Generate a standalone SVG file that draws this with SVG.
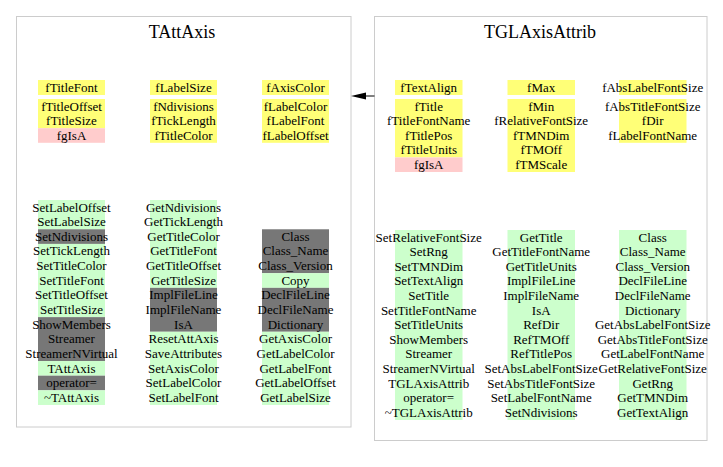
<svg xmlns="http://www.w3.org/2000/svg" width="723" height="467" viewBox="0 0 723 467">
<style>
.box{fill:#ffffff;stroke:#cccccc;stroke-width:1}
.ttl{font-family:"Liberation Serif",serif;font-size:18px;text-anchor:middle;fill:#000}
.t{font-family:"Liberation Serif",serif;font-size:13px;text-anchor:middle;fill:#000}
.y{fill:#ffff77}
.p{fill:#ffcccc}
.g{fill:#ccffcc}
.d{fill:#777777}
.edge{stroke:#000;stroke-width:1;fill:none}
</style>
<rect width="723" height="467" fill="#ffffff"/>

<g id="TAttAxis">
<rect class="box" x="16.5" y="16.5" width="334.5" height="410.5"/>
<text class="ttl" x="182" y="38">TAttAxis</text>
<!-- attribute backgrounds -->
<rect class="y" x="38" y="80" width="67" height="15"/>
<rect class="y" x="150" y="80" width="67" height="15"/>
<rect class="y" x="262" y="80" width="67" height="15"/>
<rect class="y" x="38" y="99" width="67" height="29.2"/>
<rect class="p" x="38" y="128.2" width="67" height="14.6"/>
<rect class="y" x="150" y="99" width="67" height="43.8"/>
<rect class="y" x="262" y="99" width="67" height="43.8"/>
<!-- method backgrounds -->
<rect class="g" x="38" y="200" width="67" height="29.28"/>
<rect class="d" x="38" y="229.28" width="67" height="14.64"/>
<rect class="g" x="38" y="243.92" width="67" height="73.2"/>
<rect class="d" x="38" y="317.12" width="67" height="43.92"/>
<rect class="g" x="38" y="361.04" width="67" height="14.64"/>
<rect class="d" x="38" y="375.68" width="67" height="14.64"/>
<rect class="g" x="38" y="390.32" width="67" height="14.64"/>
<rect class="g" x="150" y="200" width="67" height="87.84"/>
<rect class="d" x="150" y="287.84" width="67" height="43.92"/>
<rect class="g" x="150" y="331.76" width="67" height="73.2"/>
<rect class="d" x="262" y="229.28" width="67" height="43.92"/>
<rect class="g" x="262" y="273.2" width="67" height="14.64"/>
<rect class="d" x="262" y="287.84" width="67" height="43.92"/>
<rect class="g" x="262" y="331.76" width="67" height="73.2"/>
<!-- attributes -->
<text class="t" x="71.5" y="91.5">fTitleFont</text>
<text class="t" x="71.5" y="110.5">fTitleOffset</text>
<text class="t" x="71.5" y="125.1">fTitleSize</text>
<text class="t" x="71.5" y="139.7">fgIsA</text>
<text class="t" x="183.5" y="91.5">fLabelSize</text>
<text class="t" x="183.5" y="110.5">fNdivisions</text>
<text class="t" x="183.5" y="125.1">fTickLength</text>
<text class="t" x="183.5" y="139.7">fTitleColor</text>
<text class="t" x="295.5" y="91.5">fAxisColor</text>
<text class="t" x="295.5" y="110.5">fLabelColor</text>
<text class="t" x="295.5" y="125.1">fLabelFont</text>
<text class="t" x="295.5" y="139.7">fLabelOffset</text>
<!-- methods col 1 -->
<text class="t" x="71.5" y="211.5">SetLabelOffset</text>
<text class="t" x="71.5" y="226.14">SetLabelSize</text>
<text class="t" x="71.5" y="240.78">SetNdivisions</text>
<text class="t" x="71.5" y="255.42">SetTickLength</text>
<text class="t" x="71.5" y="270.06">SetTitleColor</text>
<text class="t" x="71.5" y="284.7">SetTitleFont</text>
<text class="t" x="71.5" y="299.34">SetTitleOffset</text>
<text class="t" x="71.5" y="313.98">SetTitleSize</text>
<text class="t" x="71.5" y="328.62">ShowMembers</text>
<text class="t" x="71.5" y="343.26">Streamer</text>
<text class="t" x="71.5" y="357.9">StreamerNVirtual</text>
<text class="t" x="71.5" y="372.54">TAttAxis</text>
<text class="t" x="71.5" y="387.18">operator=</text>
<text class="t" x="71.5" y="401.82">~TAttAxis</text>
<!-- methods col 2 -->
<text class="t" x="183.5" y="211.5">GetNdivisions</text>
<text class="t" x="183.5" y="226.14">GetTickLength</text>
<text class="t" x="183.5" y="240.78">GetTitleColor</text>
<text class="t" x="183.5" y="255.42">GetTitleFont</text>
<text class="t" x="183.5" y="270.06">GetTitleOffset</text>
<text class="t" x="183.5" y="284.7">GetTitleSize</text>
<text class="t" x="183.5" y="299.34">ImplFileLine</text>
<text class="t" x="183.5" y="313.98">ImplFileName</text>
<text class="t" x="183.5" y="328.62">IsA</text>
<text class="t" x="183.5" y="343.26">ResetAttAxis</text>
<text class="t" x="183.5" y="357.9">SaveAttributes</text>
<text class="t" x="183.5" y="372.54">SetAxisColor</text>
<text class="t" x="183.5" y="387.18">SetLabelColor</text>
<text class="t" x="183.5" y="401.82">SetLabelFont</text>
<!-- methods col 3 -->
<text class="t" x="295.5" y="240.78">Class</text>
<text class="t" x="295.5" y="255.42">Class_Name</text>
<text class="t" x="295.5" y="270.06">Class_Version</text>
<text class="t" x="295.5" y="284.7">Copy</text>
<text class="t" x="295.5" y="299.34">DeclFileLine</text>
<text class="t" x="295.5" y="313.98">DeclFileName</text>
<text class="t" x="295.5" y="328.62">Dictionary</text>
<text class="t" x="295.5" y="343.26">GetAxisColor</text>
<text class="t" x="295.5" y="357.9">GetLabelColor</text>
<text class="t" x="295.5" y="372.54">GetLabelFont</text>
<text class="t" x="295.5" y="387.18">GetLabelOffset</text>
<text class="t" x="295.5" y="401.82">GetLabelSize</text>
</g>

<g id="TGLAxisAttrib">
<rect class="box" x="374.5" y="16.5" width="332.5" height="424"/>
<text class="ttl" x="540" y="38">TGLAxisAttrib</text>
<!-- attribute backgrounds -->
<rect class="y" x="395" y="80" width="67.5" height="15"/>
<rect class="y" x="507.5" y="80" width="67.5" height="15"/>
<rect class="y" x="619" y="80" width="67.5" height="15"/>
<rect class="y" x="395" y="99" width="67.5" height="58.4"/>
<rect class="p" x="395" y="157.4" width="67.5" height="14.6"/>
<rect class="y" x="507.5" y="99" width="67.5" height="73"/>
<rect class="y" x="619" y="99" width="67.5" height="43.8"/>
<!-- method backgrounds -->
<rect class="g" x="395" y="230" width="67.5" height="190"/>
<rect class="g" x="507.5" y="230" width="67.5" height="190"/>
<rect class="g" x="619" y="230" width="67.5" height="190"/>
<!-- attributes -->
<text class="t" x="428.7" y="91.5">fTextAlign</text>
<text class="t" x="428.7" y="110.5">fTitle</text>
<text class="t" x="428.7" y="125.1">fTitleFontName</text>
<text class="t" x="428.7" y="139.7">fTitlePos</text>
<text class="t" x="428.7" y="154.3">fTitleUnits</text>
<text class="t" x="428.7" y="168.9">fgIsA</text>
<text class="t" x="541.2" y="91.5">fMax</text>
<text class="t" x="541.2" y="110.5">fMin</text>
<text class="t" x="541.2" y="125.1">fRelativeFontSize</text>
<text class="t" x="541.2" y="139.7">fTMNDim</text>
<text class="t" x="541.2" y="154.3">fTMOff</text>
<text class="t" x="541.2" y="168.9">fTMScale</text>
<text class="t" x="652.7" y="91.5">fAbsLabelFontSize</text>
<text class="t" x="652.7" y="110.5">fAbsTitleFontSize</text>
<text class="t" x="652.7" y="125.1">fDir</text>
<text class="t" x="652.7" y="139.7">fLabelFontName</text>
<!-- methods col 1 -->
<text class="t" x="428.7" y="241.5">SetRelativeFontSize</text>
<text class="t" x="428.7" y="256.1">SetRng</text>
<text class="t" x="428.7" y="270.7">SetTMNDim</text>
<text class="t" x="428.7" y="285.3">SetTextAlign</text>
<text class="t" x="428.7" y="299.9">SetTitle</text>
<text class="t" x="428.7" y="314.5">SetTitleFontName</text>
<text class="t" x="428.7" y="329.1">SetTitleUnits</text>
<text class="t" x="428.7" y="343.7">ShowMembers</text>
<text class="t" x="428.7" y="358.3">Streamer</text>
<text class="t" x="428.7" y="372.9">StreamerNVirtual</text>
<text class="t" x="428.7" y="387.5">TGLAxisAttrib</text>
<text class="t" x="428.7" y="402.1">operator=</text>
<text class="t" x="428.7" y="416.7">~TGLAxisAttrib</text>
<!-- methods col 2 -->
<text class="t" x="541.2" y="241.5">GetTitle</text>
<text class="t" x="541.2" y="256.1">GetTitleFontName</text>
<text class="t" x="541.2" y="270.7">GetTitleUnits</text>
<text class="t" x="541.2" y="285.3">ImplFileLine</text>
<text class="t" x="541.2" y="299.9">ImplFileName</text>
<text class="t" x="541.2" y="314.5">IsA</text>
<text class="t" x="541.2" y="329.1">RefDir</text>
<text class="t" x="541.2" y="343.7">RefTMOff</text>
<text class="t" x="541.2" y="358.3">RefTitlePos</text>
<text class="t" x="541.2" y="372.9">SetAbsLabelFontSize</text>
<text class="t" x="541.2" y="387.5">SetAbsTitleFontSize</text>
<text class="t" x="541.2" y="402.1">SetLabelFontName</text>
<text class="t" x="541.2" y="416.7">SetNdivisions</text>
<!-- methods col 3 -->
<text class="t" x="652.7" y="241.5">Class</text>
<text class="t" x="652.7" y="256.1">Class_Name</text>
<text class="t" x="652.7" y="270.7">Class_Version</text>
<text class="t" x="652.7" y="285.3">DeclFileLine</text>
<text class="t" x="652.7" y="299.9">DeclFileName</text>
<text class="t" x="652.7" y="314.5">Dictionary</text>
<text class="t" x="652.7" y="329.1">GetAbsLabelFontSize</text>
<text class="t" x="652.7" y="343.7">GetAbsTitleFontSize</text>
<text class="t" x="652.7" y="358.3">GetLabelFontName</text>
<text class="t" x="652.7" y="372.9">GetRelativeFontSize</text>
<text class="t" x="652.7" y="387.5">GetRng</text>
<text class="t" x="652.7" y="402.1">GetTMNDim</text>
<text class="t" x="652.7" y="416.7">GetTextAlign</text>
</g>

<g id="connectors">
<line class="edge" x1="374.5" y1="96" x2="366" y2="96"/>
<path d="M351,96 L366,92.5 L366,99.5 Z" fill="#000"/>
</g>
</svg>
